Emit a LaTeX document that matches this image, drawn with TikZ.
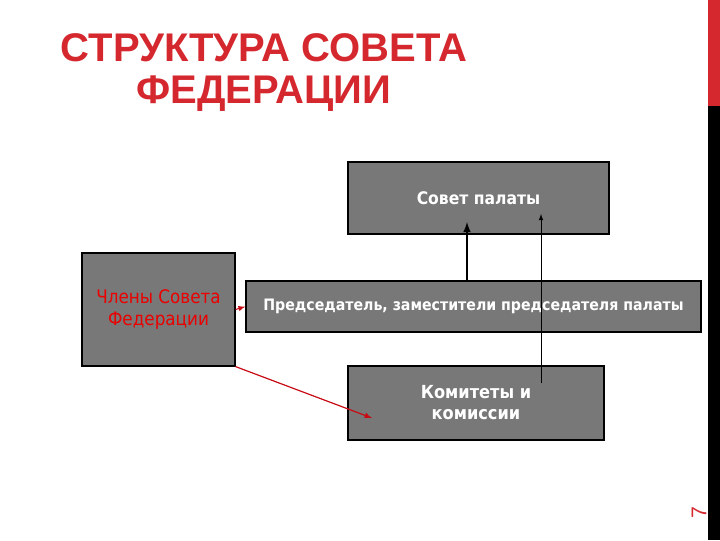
\documentclass[tikz,border=0pt]{standalone}
\usepackage{fontspec}
\setmainfont{Liberation Sans}
\newfontfamily\boxfont{DejaVu Sans Condensed}
\usepackage{xcolor}
\definecolor{titlered}{RGB}{212,40,46}
\definecolor{boxgray}{RGB}{120,120,120}
\definecolor{memberred}{RGB}{235,0,0}
\definecolor{arrowred}{RGB}{200,10,20}

\begin{document}
\begin{tikzpicture}[x=0.75pt,y=0.75pt,yscale=-1,xscale=1,
    graybox/.style={draw=black,fill=boxgray,line width=0.9pt,inner sep=0pt,align=center,font=\boxfont\bfseries\fontsize{13}{16}\selectfont,text=white}]
    \useasboundingbox (0,0) rectangle (720,540);
    
    %Shape: Side strip
    \fill [color=titlered] (708,0) rectangle (720,106);
    \fill [color=black] (708,106) rectangle (720,540);
    
    % Text Node
    \node (title) [anchor=center,align=center,text=titlered,font=\bfseries\fontsize{30}{31.5}\selectfont] at (264,73) {СТРУКТУРА СОВЕТА\\ФЕДЕРАЦИИ};
    
    %Shape: Boxes
    \node (sovet) [graybox,minimum width=261*0.75pt,minimum height=72*0.75pt] at (478.5,198) {Совет палаты};
    \node (chleny) [graybox,minimum width=153*0.75pt,minimum height=113*0.75pt,text=memberred,font=\boxfont\fontsize{14}{16.5}\selectfont] at (158.5,309.5) {Члены Совета\\Федерации};
    \node (pred) [graybox,minimum width=455*0.75pt,minimum height=51*0.75pt,font=\boxfont\bfseries\fontsize{11.8}{16}\selectfont] at (473.5,306.5) {Председатель, заместители председателя палаты};
    \node (komitety) [graybox,minimum width=256*0.75pt,minimum height=74*0.75pt,font=\boxfont\bfseries\fontsize{13.5}{15.75}\selectfont] at (476,403) {Комитеты и\\комиссии};
    
    % Arrow end points
    \coordinate (predtop) at (pred.north -| 467,0);
    \coordinate (sovetin) at (467,222);
    \coordinate (komin) at (541,383);
    \coordinate (sovetin2) at (541,214);
    \coordinate (kominred) at (372,418);
    
    %Straight Lines
    \draw [line width=1.6pt,-latex] (predtop) -- (sovetin);
    \draw [line width=0.6pt,-latex] (komin) -- (sovetin2);
    \draw [color=arrowred,line width=0.8pt,-latex] (chleny.east) -- (pred.west);
    \draw [color=arrowred,line width=0.9pt,-latex] (chleny.south east) -- (kominred);
    
    % Text Node
    \node (page) [rotate=90,text=titlered,font=\fontsize{16}{17}\selectfont] at (699,513) {7};
    
\end{tikzpicture}
\end{document}
